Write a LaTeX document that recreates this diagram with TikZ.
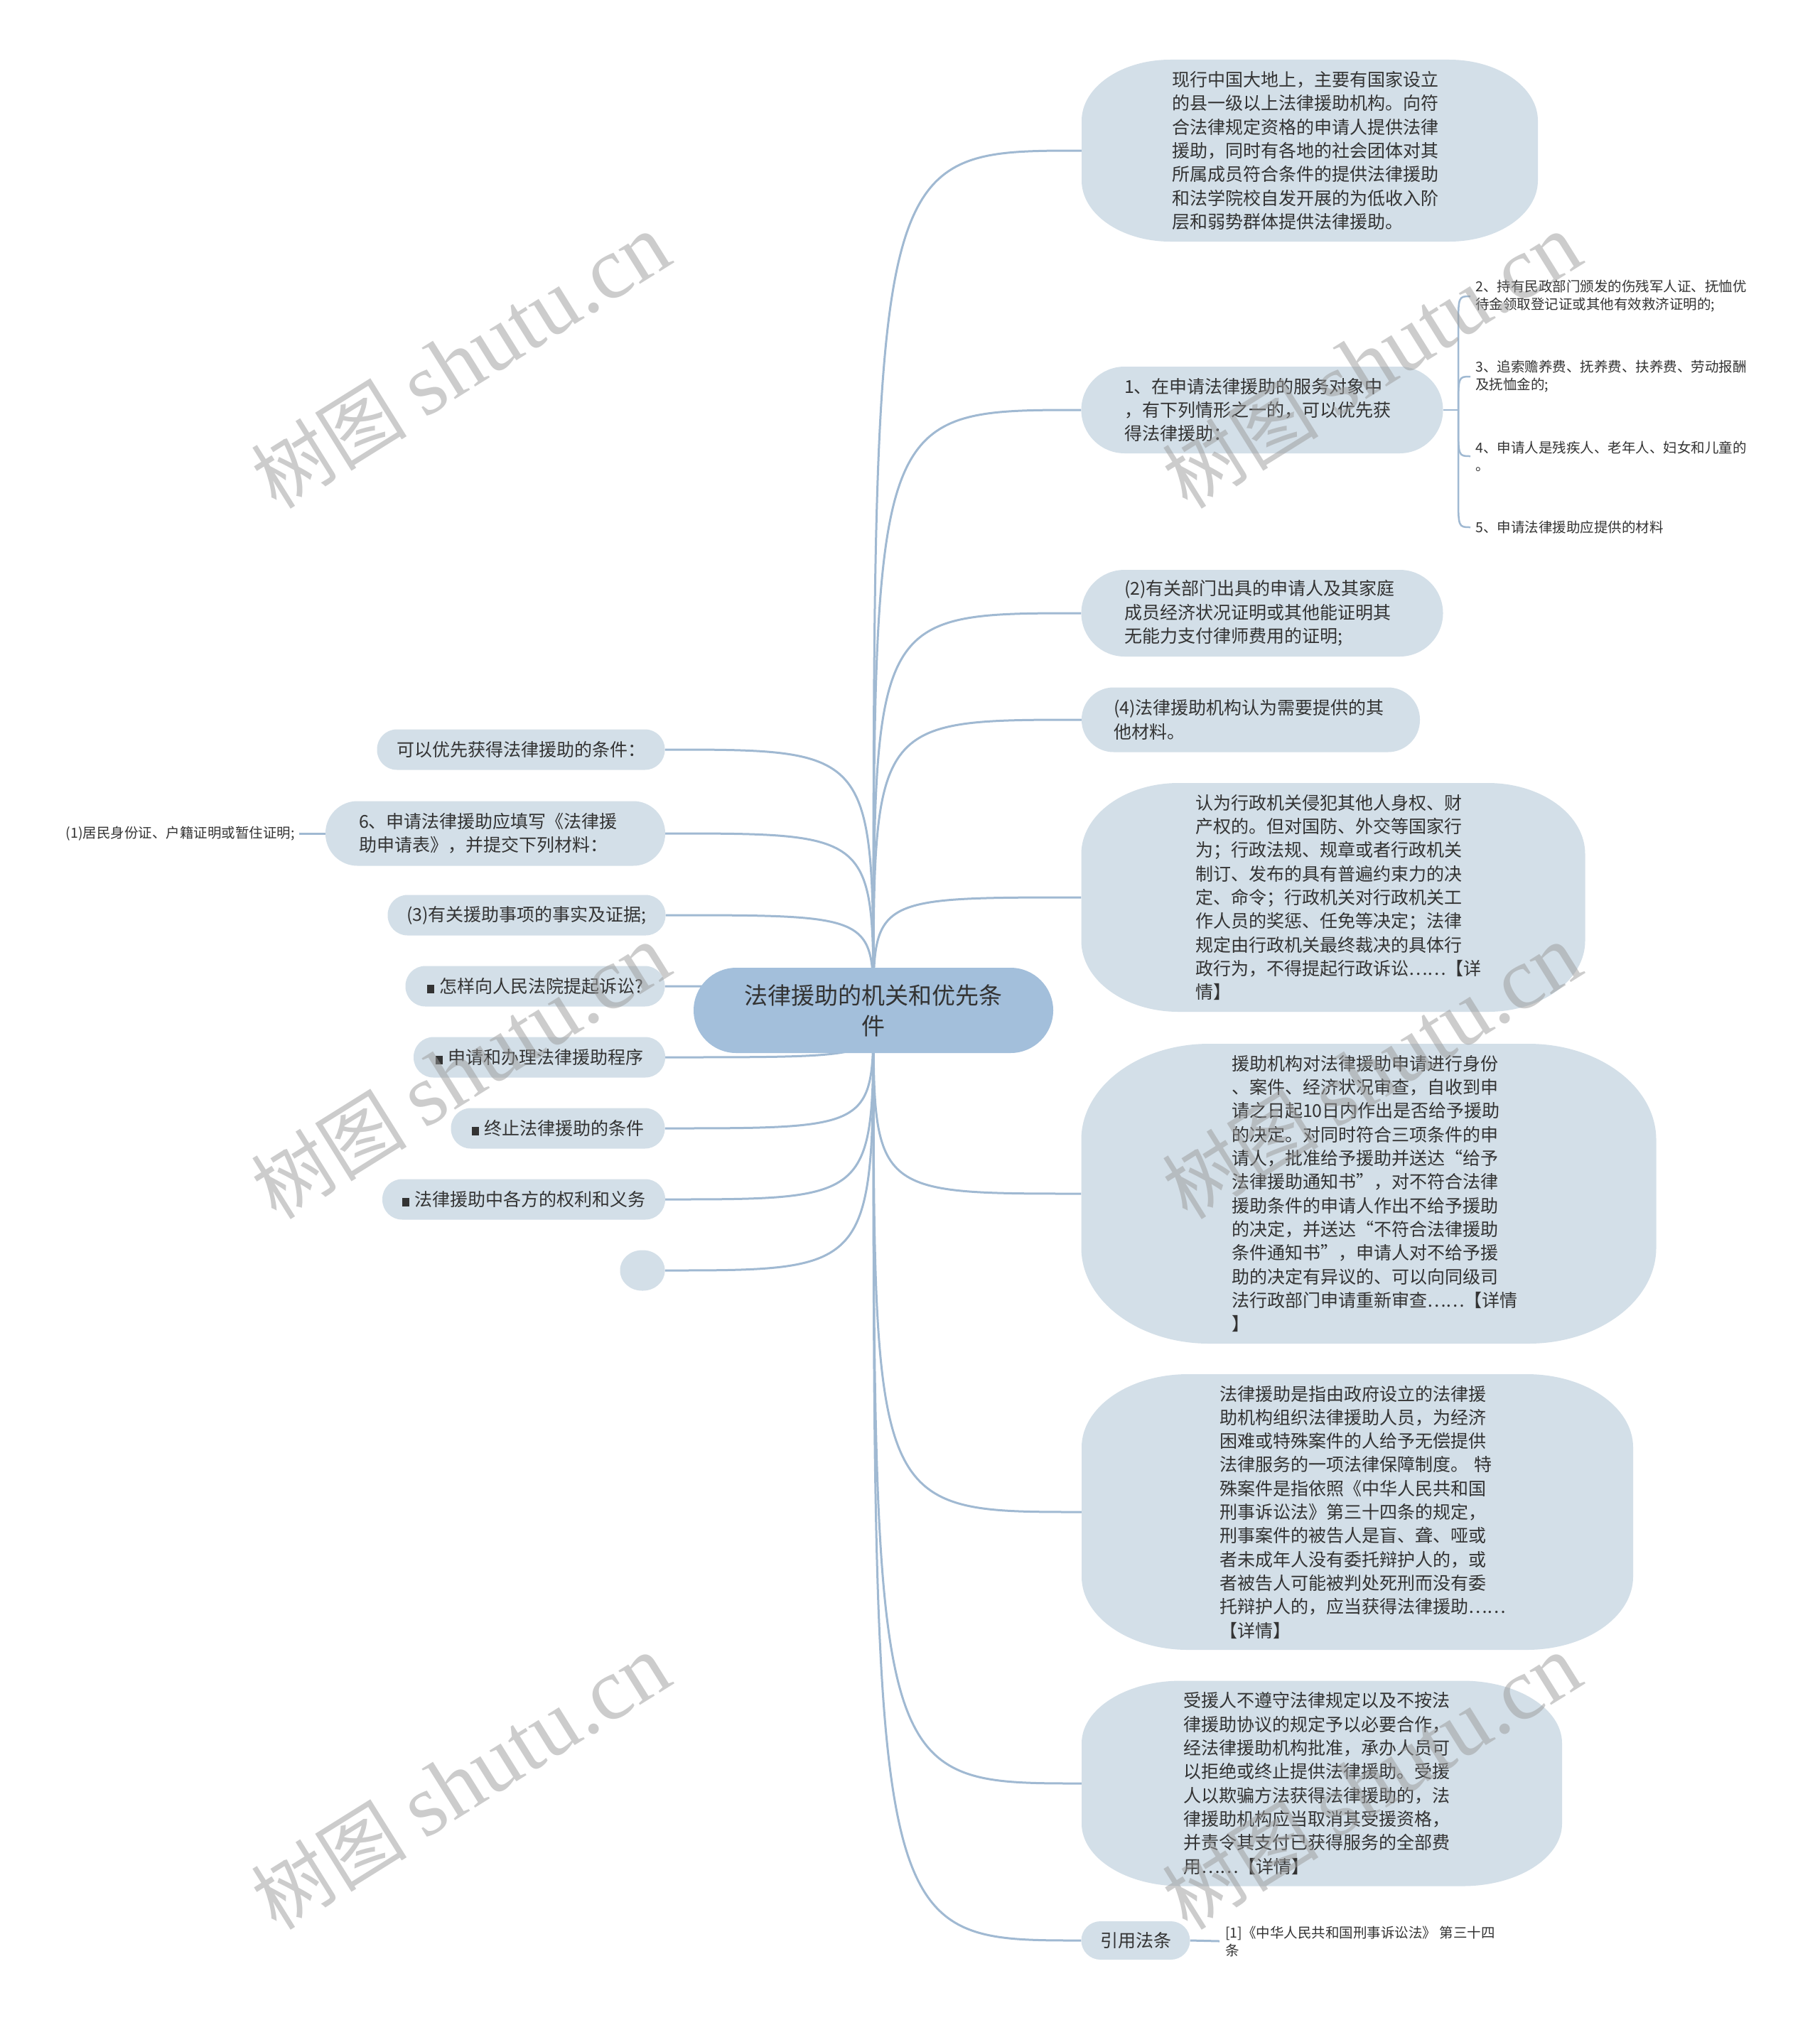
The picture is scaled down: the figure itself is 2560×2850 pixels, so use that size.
\documentclass[tikz,border=0pt]{standalone}
\usepackage{fontspec}
\setmainfont{Noto Sans CJK SC}
\newfontfamily\wmlatin{Liberation Serif}
\usetikzlibrary{calc}
\setlength\parindent{0pt}
\definecolor{nodefill}{HTML}{D3DFE8}
\definecolor{rootfill}{HTML}{A3BFDB}
\definecolor{edgecol}{HTML}{A0B9D2}
\definecolor{txt}{HTML}{333333}
\definecolor{wmcol}{HTML}{9A9A9A}
\pgfdeclarelayer{bglayer}
\pgfdeclarelayer{edgelayer}
\pgfdeclarelayer{filllayer}
\pgfdeclarelayer{wmlayer}
\pgfsetlayers{bglayer,edgelayer,filllayer,main,wmlayer}
\tikzset{
  boxtext/.style={inner sep=0pt, text=txt, font=\fontsize{25}{33.3}\selectfont},
  tw/.style={text width=388pt, align=left},
  one/.style={align=center},
  conn/.style={draw=edgecol, line width=3pt},
  bconn/.style={draw=edgecol, line width=2.5pt},
  small/.style={inner sep=0pt, text=txt, font=\fontsize{19.5}{25}\selectfont, align=left},
  wm/.style={text=wmcol, opacity=0.5, rotate=32, font=\fontsize{110}{112}\selectfont, inner sep=0pt},
}
\newcommand\blk{\rule[-0.5pt]{10pt}{12pt}\hspace{8pt}}
\newcommand\wmtext{树图 {\wmlatin\fontsize{124}{126}\selectfont shutu.cn}}
\newcommand\ebox[9][]{%
  \node[boxtext,#1,minimum width=#5,minimum height=#6] (#2) at (#3,-#4) {#9};
  \begin{pgfonlayer}{filllayer}
    \fill[nodefill] (#3-#5/2+#7,-#4+#6/2) -- (#3+#5/2-#7,-#4+#6/2)
      arc[start angle=90,end angle=0,x radius=#7,y radius=#8]
      -- (#3+#5/2,-#4-#6/2+#8)
      arc[start angle=0,end angle=-90,x radius=#7,y radius=#8]
      -- (#3-#5/2+#7,-#4-#6/2)
      arc[start angle=270,end angle=180,x radius=#7,y radius=#8]
      -- (#3-#5/2,-#4+#6/2-#8)
      arc[start angle=180,end angle=90,x radius=#7,y radius=#8]
      -- cycle;
  \end{pgfonlayer}}
\begin{document}
\begin{tikzpicture}[x=1pt,y=1pt]
\begin{pgfonlayer}{bglayer}
  \fill[white] (0,0) rectangle (2560,-2850);
\end{pgfonlayer}
\useasboundingbox (0,0) rectangle (2560,-2850);

% root
\node[boxtext, fill=rootfill, rounded corners=60pt, minimum width=506, minimum height=120,
      align=center, font=\fontsize{33}{43}\selectfont] (root) at (1229,-1422)
      {法律援助的机关和优先条\\件};

% right side
\ebox[tw]{N1}{1843}{212}{642}{256}{125}{86}{现行中国大地上，主要有国家设立\\的县一级以上法律援助机构。向符\\合法律规定资格的申请人提供法律\\援助，同时有各地的社会团体对其\\所属成员符合条件的提供法律援助\\和法学院校自发开展的为低收入阶\\层和弱势群体提供法律援助。}
\ebox[tw]{N2}{1776}{577}{509}{122}{61}{61}{1、在申请法律援助的服务对象中\\，有下列情形之一的，可以优先获\\得法律援助：}
\ebox[tw]{N3}{1776}{863}{509}{122}{61}{61}{(2)有关部门出具的申请人及其家庭\\成员经济状况证明或其他能证明其\\无能力支付律师费用的证明;}
\ebox[tw,text width=386pt]{N4}{1760}{1013}{476}{91}{45}{45}{(4)法律援助机构认为需要提供的其\\他材料。}
\ebox[tw]{N5}{1876}{1263}{709}{322}{137}{100}{认为行政机关侵犯其他人身权、财\\产权的。但对国防、外交等国家行\\为；行政法规、规章或者行政机关\\制订、发布的具有普遍约束力的决\\定、命令；行政机关对行政机关工\\作人员的奖惩、任免等决定；法律\\规定由行政机关最终裁决的具体行\\政行为，不得提起行政诉讼……【详\\情】}
\ebox[tw,text width=386pt]{N6}{1926}{1680}{809}{422}{180}{135}{援助机构对法律援助申请进行身份\\、案件、经济状况审查，自收到申\\请之日起10日内作出是否给予援助\\的决定。对同时符合三项条件的申\\请人，批准给予援助并送达“给予\\法律援助通知书”，对不符合法律\\援助条件的申请人作出不给予援助\\的决定，并送达“不符合法律援助\\条件通知书”，申请人对不给予援\\助的决定有异议的、可以向同级司\\法行政部门申请重新审查……【详情\\】}
\ebox[tw]{N7}{1910}{2128}{776}{388}{150}{103}{法律援助是指由政府设立的法律援\\助机构组织法律援助人员，为经济\\困难或特殊案件的人给予无偿提供\\法律服务的一项法律保障制度。~特\\殊案件是指依照《中华人民共和国\\刑事诉讼法》第三十四条的规定，\\刑事案件的被告人是盲、聋、哑或\\者未成年人没有委托辩护人的，或\\者被告人可能被判处死刑而没有委\\托辩护人的，应当获得法律援助……\\【详情】}
\ebox[tw,text width=390pt]{N8}{1860}{2510}{676}{289}{140}{88}{受援人不遵守法律规定以及不按法\\律援助协议的规定予以必要合作，\\经法律援助机构批准，承办人员可\\以拒绝或终止提供法律援助。受援\\人以欺骗方法获得法律援助的，法\\律援助机构应当取消其受援资格，\\并责令其支付已获得服务的全部费\\用……【详情】}
\ebox[one]{N9}{1598}{2731}{153}{54}{27}{27}{引用法条}

% left side
\ebox[one]{L1}{733}{1055}{405}{57}{28}{28}{可以优先获得法律援助的条件：}
\ebox[tw,text width=384pt]{L2}{697}{1173}{478}{91}{45}{45}{6、申请法律援助应填写《法律援\\助申请表》，并提交下列材料：}
\ebox[one]{L3}{741}{1288}{391}{57}{28}{28}{(3)有关援助事项的事实及证据;}
\ebox[one]{L4}{753}{1388}{365}{57}{28}{28}{\blk 怎样向人民法院提起诉讼?}
\ebox[one]{L5}{759}{1488}{354}{57}{28}{28}{\blk 申请和办理法律援助程序}
\ebox[one]{L6}{785}{1588}{301}{57}{28}{28}{\blk 终止法律援助的条件}
\ebox[one]{L7}{737}{1688}{398}{57}{28}{28}{\blk 法律援助中各方的权利和义务}
\ebox[one]{L8}{904}{1788}{63}{57}{31}{28}{}

% small leaf texts
\node[small, anchor=west] (c2) at (2076,-417) {2、持有民政部门颁发的伤残军人证、抚恤优\\待金领取登记证或其他有效救济证明的;};
\node[small, anchor=west] (c3) at (2076,-530) {3、追索赡养费、抚养费、扶养费、劳动报酬\\及抚恤金的;};
\node[small, anchor=west] (c4) at (2076,-642) {4、申请人是残疾人、老年人、妇女和儿童的\\。};
\node[small, anchor=west] (c5) at (2076,-742) {5、申请法律援助应提供的材料};
\node[small, anchor=west] (c9) at (1724,-2732) {[1]《中华人民共和国刑事诉讼法》 第三十四\\条};
\node[small, anchor=east] (c1) at (415,-1173) {(1)居民身份证、户籍证明或暂住证明;};

% connectors
\begin{pgfonlayer}{edgelayer}
  \foreach \n in {N1,N2,N3,N4,N5,N6,N7,N8,N9}
    \draw[conn] (root.center) .. controls (root.center |- \n.west) .. (\n.west);
  \foreach \n in {L1,L2,L3,L4,L5,L6,L7,L8}
    \draw[conn] (root.center) .. controls (root.center |- \n.east) .. (\n.east);
  \coordinate (br) at (2052,-577);
  \draw[bconn] (N2.east) -- (br);
  \foreach \c/\s in {c2/1,c3/1,c4/-1,c5/-1}
    \draw[bconn] (br) -- ($(br |- \c.west)+(0,-45*\s)$) .. controls (br |- \c.west) .. ($(\c.west)+(-7,0)$);
  \draw[conn] (N9.east) -- ($(c9.west)+(-8,0)$);
  \draw[conn] (L2.west) -- ($(c1.east)+(6,0)$);
\end{pgfonlayer}

% watermarks
\begin{pgfonlayer}{wmlayer}
  \node[wm] (wm1) at (648,-508) {\wmtext};
  \node[wm] (wm2) at (1930,-508) {\wmtext};
  \node[wm] (wm3) at (648,-1508) {\wmtext};
  \node[wm] (wm4) at (1930,-1508) {\wmtext};
  \node[wm] (wm5) at (648,-2508) {\wmtext};
  \node[wm] (wm6) at (1930,-2508) {\wmtext};
\end{pgfonlayer}
\end{tikzpicture}
\end{document}
